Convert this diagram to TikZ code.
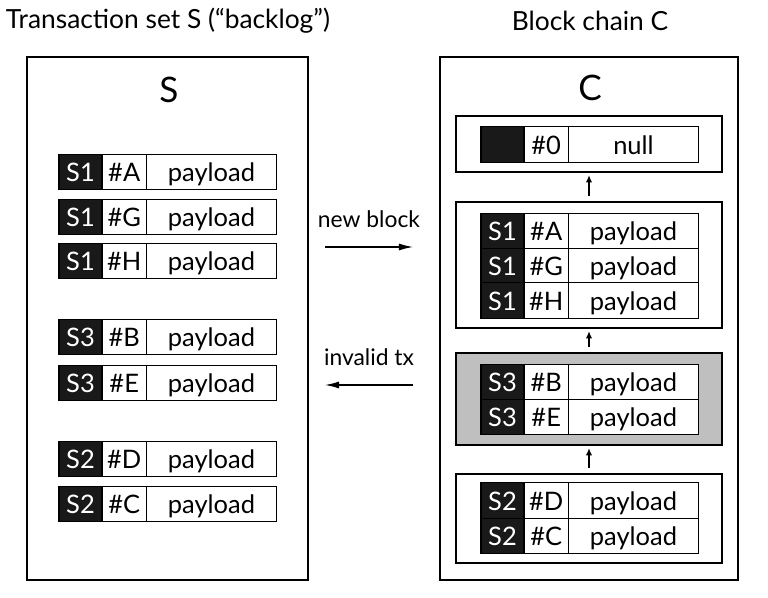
\documentclass[tikz,border=0pt]{standalone}
\usepackage{fontspec}
\setmainfont{Lato}
\usetikzlibrary{positioning,arrows.meta}

\tikzset{
  cell/.style={draw, line width=0.6pt, outer sep=0pt, inner sep=0pt,
    minimum height=0.71cm, text height=13pt, text depth=2pt,
    font=\fontsize{14.5}{16}\selectfont},
  src/.style={cell, fill=black!90, text=white, minimum width=0.86cm},
  txid/.style={cell, fill=white, minimum width=0.89cm},
  load/.style={cell, fill=white, minimum width=2.6cm},
  block/.style={draw, line width=0.7pt, minimum width=5.32cm},
  pool/.style={draw, line width=0.8pt, minimum height=10.46cm},
  link/.style={-{Latex[length=4pt,width=3.5pt]}, line width=0.6pt},
  move/.style={-{Latex[length=8pt,width=4pt]}, line width=0.7pt},
  caption/.style={font=\fontsize{13}{15}\selectfont},
}

\begin{document}
\begin{tikzpicture}[x=0.02cm, y=-0.02cm]
  \useasboundingbox (0,0) rectangle (768,598);

  % titles
  \node (titleS) [font=\fontsize{15}{17}\selectfont] at (168,21) {Transaction set S (``backlog'')};
  \node (titleC) [font=\fontsize{15}{17}\selectfont] at (590,21) {Block chain C};

  % the two containers
  \node (setS) [pool, minimum width=5.62cm] at (167.5,318.5) {};
  \node (chainC) [pool, minimum width=5.96cm] at (589,318.5) {};
  \node (nameS) [font=\fontsize{20}{22}\selectfont] at (169,90) {S};
  \node (nameC) [font=\fontsize{20}{22}\selectfont] at (590,88) {C};

  % backlog
  \foreach \y/\s/\t in {172/S1/A, 217/S1/G, 261/S1/H, 337/S3/B,
                        383/S3/E, 459/S2/D, 504/S2/C} {
    \node (s\t) [src, anchor=west] at (59,\y) {\s};
    \node (h\t) [txid, right=0pt of s\t] {\#\t};
    \node (p\t) [load, right=0pt of h\t] {payload};
  }

  % blocks
  \node (b0) [block, minimum height=1.12cm] at (589,144) {};
  \node (b1) [block, minimum height=2.52cm] at (589,265) {};
  \node (b2) [block, minimum height=1.84cm, fill=black!25] at (589,399) {};
  \node (b3) [block, minimum height=1.78cm] at (589,518.5) {};

  \node (cs0) [src, anchor=west] at (481,144.5) {};
  \node (ch0) [txid, right=0pt of cs0] {\#0};
  \node (cp0) [load, right=0pt of ch0] {null};
  \foreach \y/\s/\t in {231/S1/A, 266/S1/G, 300.5/S1/H, 382/S3/B,
                        417/S3/E, 500.5/S2/D, 536/S2/C} {
    \node (cs\t) [src, anchor=west] at (481,\y) {\s};
    \node (ch\t) [txid, right=0pt of cs\t] {\#\t};
    \node (cp\t) [load, right=0pt of ch\t] {payload};
  }

  \draw[link, shorten <=3pt, shorten >=1.5pt] (b1) -- (b0);
  \draw[link, shorten <=3pt, shorten >=1.5pt] (b2) -- (b1);
  \draw[link, shorten <=3pt, shorten >=1.5pt] (b3) -- (b2);

  % moves between S and C
  \coordinate (nbFrom) at (325,247);
  \coordinate (nbTo) at (413,247);
  \coordinate (itFrom) at (413,385);
  \coordinate (itTo) at (325,385);
  \node (newblock) [caption] at (369,219) {new block};
  \node (invalid) [caption] at (369,357) {invalid tx};
  \draw[move] (nbFrom) -- (nbTo);
  \draw[move] (itFrom) -- (itTo);
\end{tikzpicture}
\end{document}
